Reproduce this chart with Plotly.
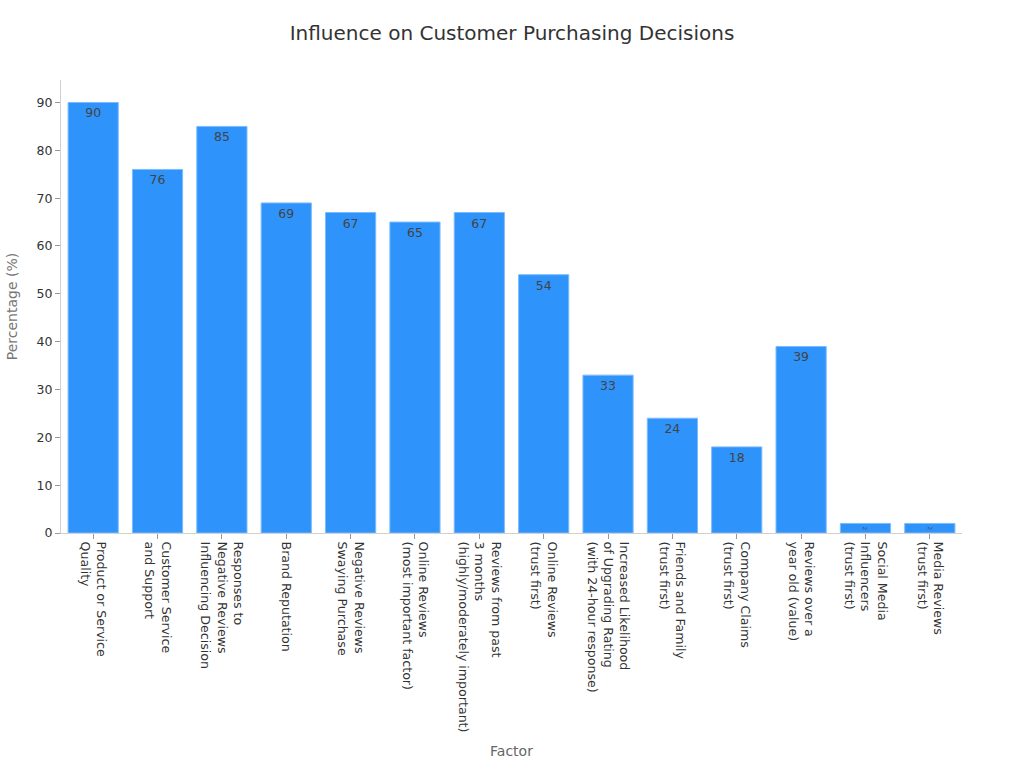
import plotly.graph_objects as go

categories = [
    "Product or Service<br>Quality",
    "Customer Service<br>and Support",
    "Responses to<br>Negative Reviews<br>Influencing Decision",
    "Brand Reputation",
    "Negative Reviews<br>Swaying Purchase",
    "Online Reviews<br>(most important factor)",
    "Reviews from past<br>3 months<br>(highly/moderately important)",
    "Online Reviews<br>(trust first)",
    "Increased Likelihood<br>of Upgrading Rating<br>(with 24-hour response)",
    "Friends and Family<br>(trust first)",
    "Company Claims<br>(trust first)",
    "Reviews over a<br>year old (value)",
    "Social Media<br>Influencers<br>(trust first)",
    "Media Reviews<br>(trust first)",
]
values = [90, 76, 85, 69, 67, 65, 67, 54, 33, 24, 18, 39, 2, 2]

fig = go.Figure(go.Bar(
    x=categories,
    y=values,
    text=[str(v) for v in values],
    textposition="inside",
    insidetextanchor="end",
    textfont=dict(color="#444444", size=12.5),
    marker=dict(color="#2E93FA", line=dict(color="#7dbcfc", width=1)),
))

fig.update_layout(
    width=1024, height=768,
    margin=dict(l=61, r=62, t=80, b=235, autoexpand=False),
    paper_bgcolor="white", plot_bgcolor="white",
    font=dict(family="DejaVu Sans", color="#333333"),
    title=dict(text="Influence on Customer Purchasing Decisions", x=0.5, xanchor="center",
               y=0.957, yanchor="middle", font=dict(size=20, color="#333333")),
    bargap=0.22,
    showlegend=False,
)
fig.update_xaxes(
    title=dict(text="Factor", font=dict(size=14, color="#666666"), standoff=14),
    tickangle=90, tickfont=dict(size=12.6, color="#333333"),
    showline=True, linecolor="#d0d0d0", linewidth=1,
    ticks="outside", tickcolor="#999999", ticklen=5,
    showgrid=False,
)
fig.update_yaxes(
    title=dict(text="Percentage (%)", font=dict(size=14, color="#777777")),
    range=[0, 94.7], dtick=10,
    tickfont=dict(size=12.5, color="#333333"),
    showline=True, linecolor="#d0d0d0", linewidth=1,
    ticks="outside", tickcolor="#999999", ticklen=5,
    showgrid=False, zeroline=False,
)

fig.write_html("out.html")
